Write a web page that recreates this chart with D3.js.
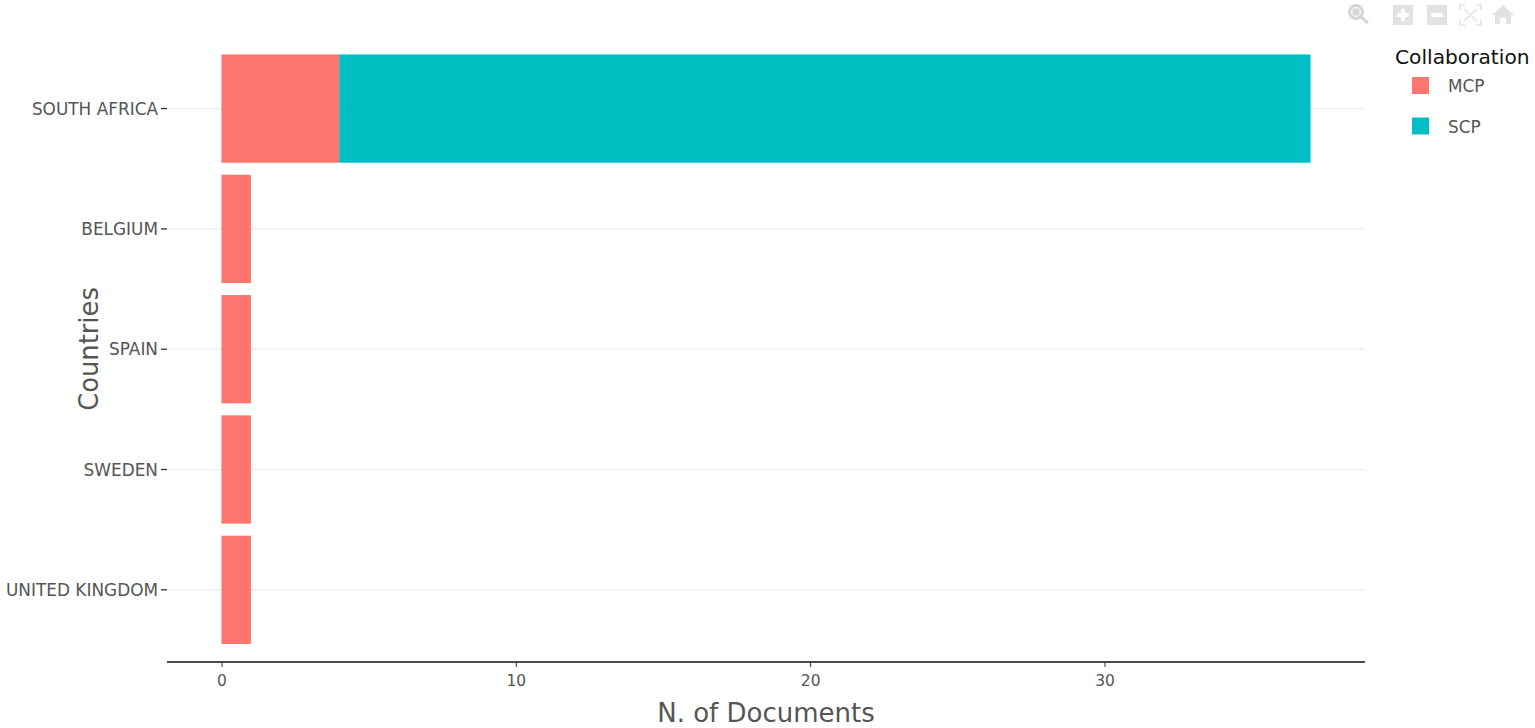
<!DOCTYPE html>
<html>
<head>
<meta charset="utf-8">
<script src="https://cdn.jsdelivr.net/npm/d3@7"></script>
<style>
  html, body { margin: 0; padding: 0; background: #fff; overflow: hidden; }
  text { font-family: "DejaVu Sans", Verdana, sans-serif; }
</style>
</head>
<body>
<svg id="chart"></svg>
<script>
const countries = ["SOUTH AFRICA", "BELGIUM", "SPAIN", "SWEDEN", "UNITED KINGDOM"];
const mcpDocs = [4, 1, 1, 1, 1];
const scpDocs = [33, 0, 0, 0, 0];
const groups = ["MCP", "SCP"];
const xTicks = [0, 10, 20, 30];

const width = 1535;
const height = 728;
const margin = { top: 36.4, right: 170, bottom: 66, left: 167 };

const colors = d3.scaleOrdinal().domain(groups).range(["#fd756d", "#00bfc4"]);

const svg = d3.select("#chart").attr("width", width).attr("height", height);

const x = d3.scaleLinear().domain([-1.85, 38.85]).range([margin.left, width - margin.right]);
const y = d3
  .scaleBand()
  .domain(countries)
  .range([margin.top, height - margin.bottom])
  .paddingInner(0.1)
  .paddingOuter(0.15);

// Horizontal grid only
svg
  .append("g")
  .selectAll("line")
  .data(countries)
  .join("line")
  .attr("x1", margin.left)
  .attr("x2", width - margin.right)
  .attr("y1", (d) => y(d) + y.bandwidth() / 2)
  .attr("y2", (d) => y(d) + y.bandwidth() / 2)
  .attr("stroke", "#ededed")
  .attr("stroke-width", 1.2);

// Stacked bars
const rows = countries.map((c, i) => ({ country: c, MCP: mcpDocs[i], SCP: scpDocs[i] }));
const stacked = d3.stack().keys(groups)(rows);

svg
  .append("g")
  .selectAll("g")
  .data(stacked)
  .join("g")
  .attr("fill", (s) => colors(s.key))
  .selectAll("rect")
  .data((s) => s.filter((d) => d[1] > d[0]))
  .join("rect")
  .attr("x", (d) => x(d[0]))
  .attr("y", (d) => y(d.data.country))
  .attr("width", (d) => x(d[1]) - x(d[0]))
  .attr("height", y.bandwidth());

// Y axis
const yAxis = svg
  .append("g")
  .attr("transform", "translate(" + margin.left + ",0)")
  .call(d3.axisLeft(y).tickSize(6).tickPadding(3));
yAxis.select(".domain").remove();
yAxis.selectAll("line").attr("stroke", "#333").attr("stroke-width", 1.3);
yAxis.selectAll("text").attr("fill", "#555").attr("dy", "0.37em").style("font-size", "16.9px");

// X axis
const xAxis = svg
  .append("g")
  .attr("transform", "translate(0," + (height - margin.bottom) + ")")
  .call(d3.axisBottom(x).tickValues(xTicks).tickSize(5).tickPadding(8).tickFormat(d3.format("d")));
xAxis.select(".domain").attr("stroke", "#111").attr("stroke-width", 1.5).attr("d", "M" + margin.left + ",0H" + (width - margin.right));
xAxis.selectAll("line").attr("stroke", "#333");
xAxis.selectAll("text").attr("fill", "#555").style("font-size", "15.5px");

// Axis titles
svg
  .append("text")
  .attr("x", 766)
  .attr("y", 722)
  .attr("text-anchor", "middle")
  .attr("fill", "#555")
  .style("font-size", "26px")
  .text("N. of Documents");

svg
  .append("text")
  .attr("transform", "translate(98,349) rotate(-90)")
  .attr("text-anchor", "middle")
  .attr("fill", "#555")
  .style("font-size", "25.8px")
  .text("Countries");

// Legend
svg
  .append("text")
  .attr("x", 1395)
  .attr("y", 64)
  .attr("fill", "#111")
  .style("font-size", "20.2px")
  .text("Collaboration");

const legend = svg
  .append("g")
  .selectAll("g")
  .data(groups)
  .join("g")
  .attr("transform", (d, i) => "translate(1412," + (77 + i * 40.5) + ")");
legend.append("rect").attr("width", 17).attr("height", 17).attr("fill", (d) => colors(d));
legend
  .append("text")
  .attr("x", 36)
  .attr("y", 15)
  .attr("fill", "#555")
  .style("font-size", "16.9px")
  .text((d) => d);

// Modebar icons
const bar = svg.append("g").attr("fill", "#e2e2e2");
bar.append("circle").attr("cx", 1356).attr("cy", 12).attr("r", 6.5).attr("fill", "none").attr("stroke", "#d6d6d6").attr("stroke-width", 3);
bar.append("rect").attr("x", 1352.5).attr("y", 8.5).attr("width", 7).attr("height", 7).attr("fill", "#d6d6d6");
bar.append("line").attr("x1", 1361).attr("y1", 17).attr("x2", 1368).attr("y2", 23).attr("stroke", "#d6d6d6").attr("stroke-width", 3);
bar.append("path").attr("fill-rule", "evenodd").attr("d", "M1393,5h20v20h-20zM1401,9v4h-4v4h4v4h4v-4h4v-4h-4v-4z");
bar.append("path").attr("fill-rule", "evenodd").attr("d", "M1427,5h20v20h-20zM1431,13v4h12v-4z");
bar.append("path").attr("fill", "none").attr("stroke", "#e2e2e2").attr("stroke-width", 1.6)
  .attr("d", "M1460,10v-5h5M1476,5h5v5M1481,20v5h-5M1465,25h-5v-5M1464,9l13,12M1477,9l-13,12");
bar.append("path").attr("d", "M1503,5l11,10h-3v9h-5v-6h-6v6h-5v-9h-3z");
</script>
</body>
</html>
